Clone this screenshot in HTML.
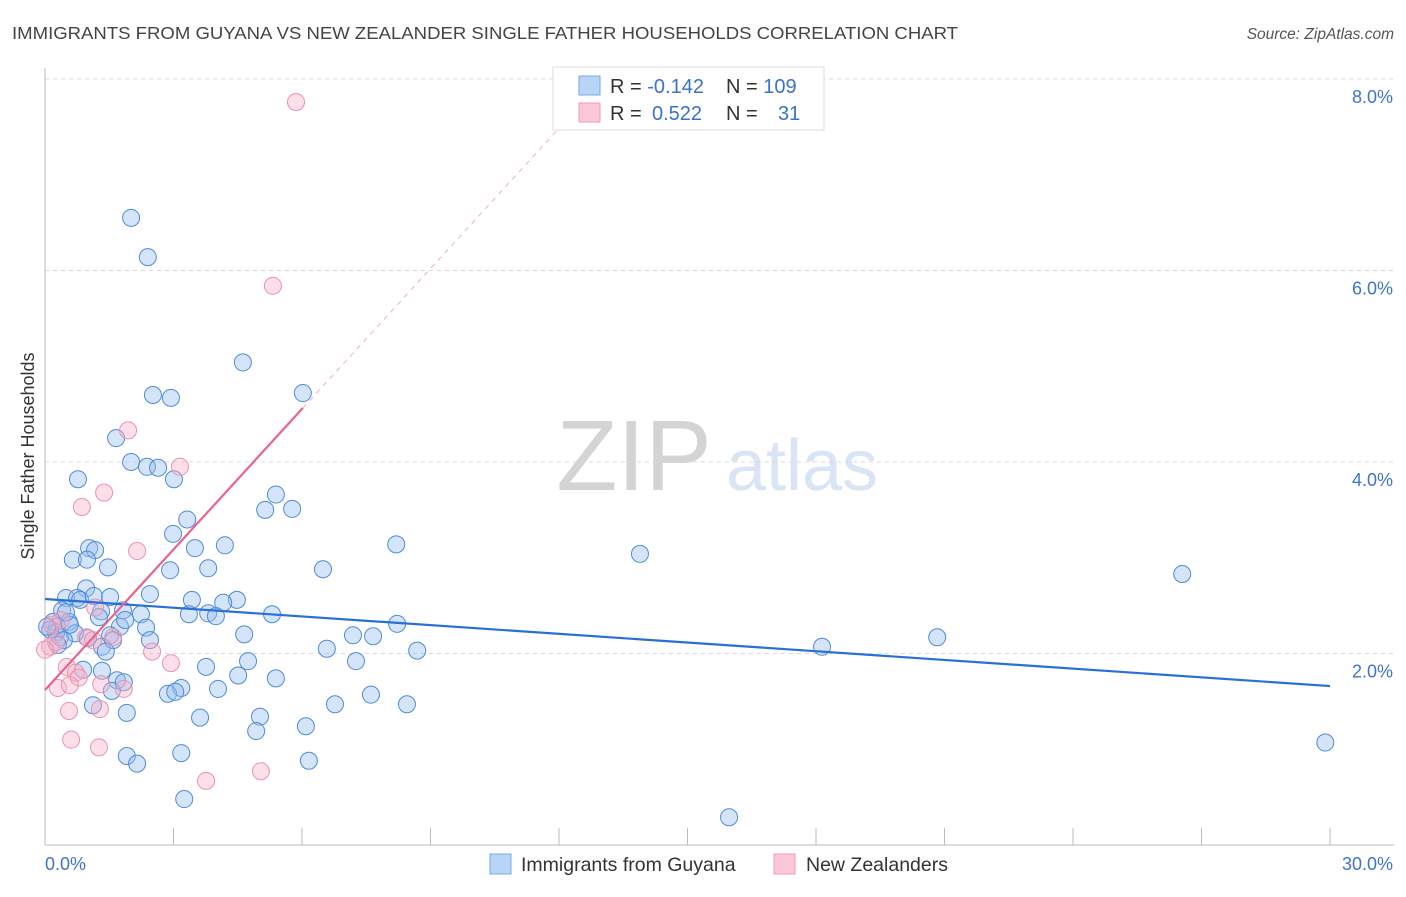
<!DOCTYPE html>
<html><head><meta charset="utf-8"><style>
body{margin:0;background:#fff;font-family:"Liberation Sans",sans-serif}
svg text{font-family:"Liberation Sans",sans-serif}
</style></head><body>
<svg id="chart" width="1406" height="892" viewBox="0 0 1406 892" xmlns="http://www.w3.org/2000/svg">
<text x="12" y="39" font-size="17.5" fill="#444" textLength="946" lengthAdjust="spacingAndGlyphs">IMMIGRANTS FROM GUYANA VS NEW ZEALANDER SINGLE FATHER HOUSEHOLDS CORRELATION CHART</text>
<text x="1394" y="39" font-size="15.5" fill="#555" font-style="italic" text-anchor="end">Source: ZipAtlas.com</text>
<g>
<text x="634" y="490" font-size="100" fill="#d4d4d4" font-family="Liberation Serif, serif" text-anchor="middle">ZIP</text>
<text x="802" y="490" font-size="72" fill="#d9e5f5" text-anchor="middle">atlas</text>
</g>
<g id="grid"></g>
<g id="axes"></g>
<g id="marks"></g>
<g>
<rect x="553" y="67" width="271" height="63" fill="#fff" stroke="#ddd"/>
<rect x="579" y="76" width="21" height="19" fill="#b8d4f6" stroke="#7aa8e8"/>
<rect x="579" y="103" width="21" height="19" fill="#fac8d6" stroke="#f09ab5"/>
<text x="610" y="93" font-size="20" fill="#333">R = <tspan fill="#3a72cc">-0.142</tspan></text>
<text x="726" y="93" font-size="20" fill="#333">N = <tspan fill="#3a72cc">109</tspan></text>
<text x="610" y="120" font-size="20" fill="#333">R = <tspan fill="#3a72cc" x="652">0.522</tspan></text>
<text x="726" y="120" font-size="20" fill="#333">N = <tspan fill="#3a72cc" x="778">31</tspan></text>
</g>
<g>
<rect x="490" y="854" width="21" height="20" fill="#b8d4f6" stroke="#7aa8e8"/>
<text x="521" y="871" font-size="19.5" fill="#333">Immigrants from Guyana</text>
<rect x="774" y="854" width="21" height="20" fill="#fac8d6" stroke="#f09ab5"/>
<text x="806" y="871" font-size="19.5" fill="#333">New Zealanders</text>
</g>
<text transform="translate(34,456) rotate(-90)" font-size="18" fill="#333" text-anchor="middle">Single Father Households</text>
</svg>
<script>
const blueX=[2.01,2.40,4.62,2.52,2.94,6.02,1.66,2.01,2.38,2.64,0.77,3.01,5.39,5.14,5.77,3.32,2.99,8.20,13.89,1.03,1.17,3.50,4.20,0.65,0.98,1.47,3.81,2.92,6.49,26.55,0.96,0.49,0.75,2.45,3.43,4.48,4.16,0.40,1.31,1.82,2.24,3.36,3.81,3.99,5.30,0.19,0.56,0.28,1.26,1.75,2.36,8.22,4.65,1.52,7.19,7.66,20.83,0.35,0.12,0.70,1.00,1.33,1.59,6.58,8.69,18.14,1.42,7.26,4.74,3.76,0.89,1.33,4.51,5.39,1.68,3.18,4.04,2.87,3.04,1.56,7.61,6.77,8.45,1.12,1.91,3.62,5.02,6.09,4.93,1.91,3.18,2.15,6.16,29.89,3.25,15.97,0.26,0.05,0.44,0.58,0.82,1.14,1.52,1.87,0.30,0.49,1.84,2.45];
const blueY=[6.55,6.14,5.04,4.70,4.67,4.72,4.25,4.00,3.95,3.94,3.82,3.82,3.66,3.50,3.51,3.40,3.25,3.14,3.04,3.10,3.08,3.10,3.13,2.98,2.98,2.90,2.89,2.87,2.88,2.83,2.68,2.58,2.58,2.62,2.56,2.56,2.53,2.45,2.44,2.45,2.41,2.41,2.42,2.39,2.41,2.33,2.33,2.28,2.38,2.28,2.27,2.31,2.20,2.19,2.19,2.18,2.17,2.17,2.25,2.21,2.16,2.07,2.14,2.05,2.03,2.07,2.02,1.92,1.92,1.86,1.83,1.82,1.77,1.74,1.72,1.64,1.63,1.58,1.60,1.61,1.57,1.47,1.47,1.46,1.38,1.33,1.34,1.24,1.19,0.93,0.96,0.85,0.88,1.07,0.48,0.29,2.22,2.28,2.14,2.30,2.56,2.60,2.59,2.35,2.09,2.43,1.70,2.14];
const pinkX=[5.86,5.32,1.94,3.15,1.38,0.86,2.15,1.17,0.96,0.12,0.26,2.50,2.94,0.51,0.72,0.79,1.31,1.84,0.30,0.58,1.28,0.56,0.61,1.26,3.76,5.04,0.16,0.37,1.59,1.12,0.00];
const pinkY=[7.76,5.84,4.33,3.95,3.68,3.53,3.07,2.48,2.17,2.07,2.12,2.02,1.90,1.86,1.80,1.75,1.68,1.63,1.64,1.67,1.42,1.40,1.10,1.02,0.67,0.77,2.30,2.35,2.17,2.14,2.04];
const blueTrend=[0,2.569,30,1.66];
const pinkTrend=[0,1.619,6.02,4.564];
const pinkDash=[6.02,4.564,11.97,7.47];
const yTicks=[2,4,6,8];
const yTickLabels=["2.0%","4.0%","6.0%","8.0%"];
const xTicks=[3,6,9,12,15,18,21,24,27,30];
const xEndLabels=["0.0%","30.0%"];

const NS="http://www.w3.org/2000/svg";
const X=v=>45+v*(1285/30);
const Y=v=>845-v*95.75;
function mk(tag,attrs,parent){const e=document.createElementNS(NS,tag);for(const k in attrs)e.setAttribute(k,attrs[k]);document.getElementById(parent).appendChild(e);return e;}

yTicks.forEach((t,i)=>{
  const g=mk('line',{x1:45,x2:1393,y1:Y(t),y2:Y(t),stroke:'#d8d8d8','stroke-dasharray':'4,4'},'grid');
  
  
  const l=mk('text',{x:1393,y:Y(t)+24,'font-size':18,fill:'#3f74cc','text-anchor':'end'},'grid');
  l.textContent=yTickLabels[i];
  
  
});
const ya=mk('line',{x1:45,x2:45,y1:68,y2:845,stroke:'#bbb'},'axes');


const xa=mk('line',{x1:45,x2:1394,y1:845,y2:845,stroke:'#bbb'},'axes');


xTicks.forEach(t=>{
  const tk=mk('line',{x1:X(t),x2:X(t),y1:828,y2:845,stroke:'#bbb'},'axes');
  
  
});
const l0=mk('text',{x:45,y:870,'font-size':18,fill:'#3f74cc'},'axes');
l0.textContent=xEndLabels[0];


const l1=mk('text',{x:1393,y:870,'font-size':18,fill:'#3f74cc','text-anchor':'end'},'axes');
l1.textContent=xEndLabels[1];



blueX.forEach((v,i)=>{
  const c=mk('circle',{cx:X(v),cy:Y(blueY[i]),r:8.5,fill:'rgba(150,190,240,0.4)',stroke:'#4f8ad9','stroke-width':1},'marks');
  
  
});
pinkX.forEach((v,i)=>{
  const c=mk('circle',{cx:X(v),cy:Y(pinkY[i]),r:8.5,fill:'rgba(248,175,198,0.4)',stroke:'#eb93ae','stroke-width':1},'marks');
  
  
});
const bt=mk('line',{x1:X(blueTrend[0]),y1:Y(blueTrend[1]),x2:X(blueTrend[2]),y2:Y(blueTrend[3]),stroke:'#2a6fd6','stroke-width':2.2},'marks');


const pd=mk('line',{x1:X(pinkDash[0]),y1:Y(pinkDash[1]),x2:X(pinkDash[2]),y2:Y(pinkDash[3]),stroke:'#f0b0c4','stroke-width':1,'stroke-dasharray':'5,5'},'marks');


const pt=mk('line',{x1:X(pinkTrend[0]),y1:Y(pinkTrend[1]),x2:X(pinkTrend[2]),y2:Y(pinkTrend[3]),stroke:'#e8648e','stroke-width':2.2},'marks');


</script>
</body></html>
